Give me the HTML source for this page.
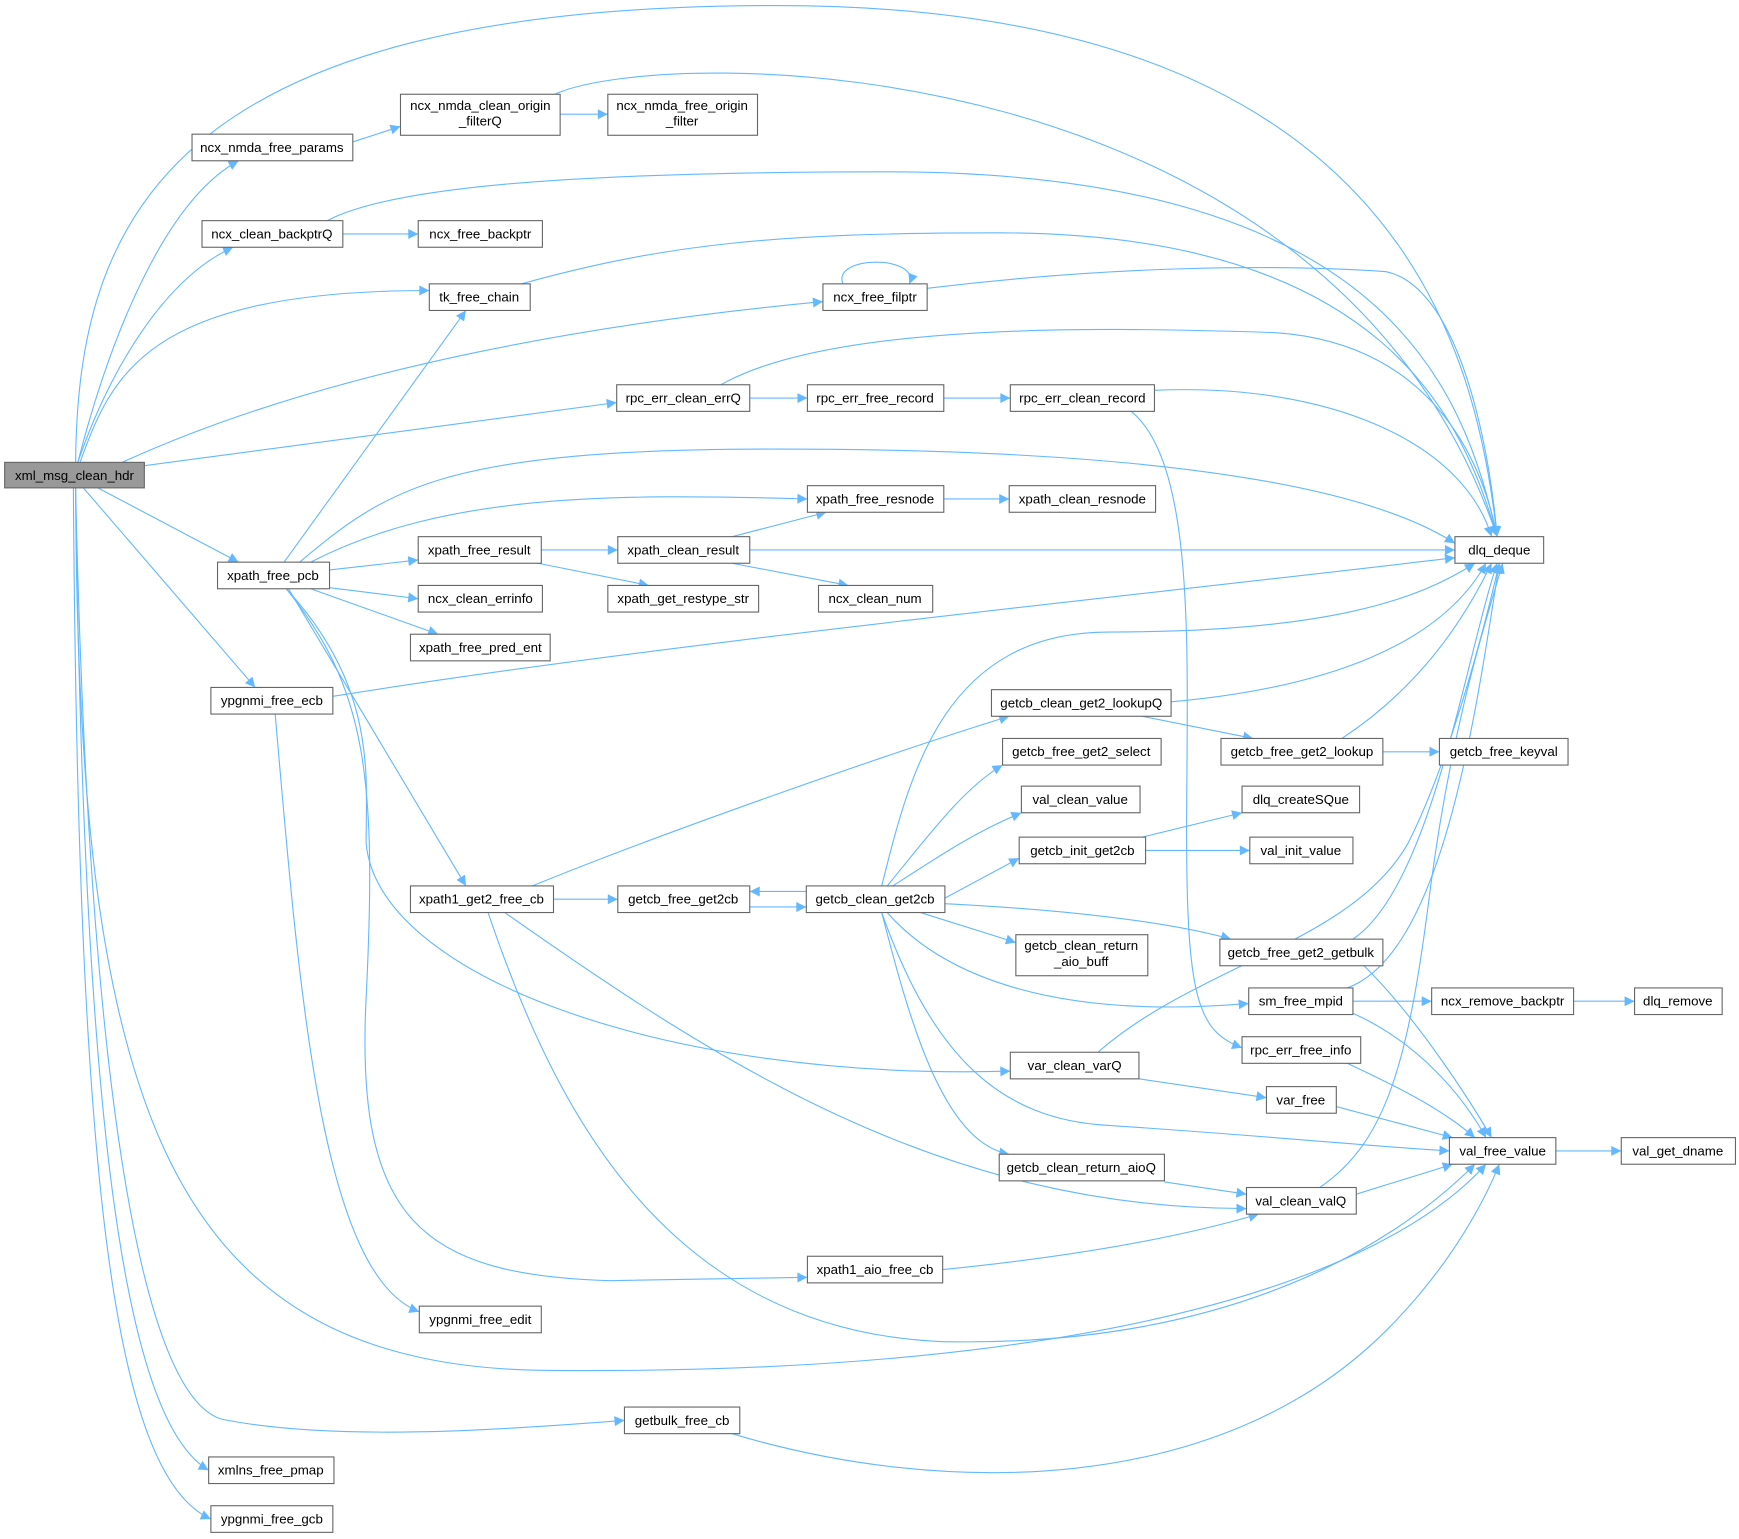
<!DOCTYPE html>
<html><head><meta charset="utf-8"><style>
html,body{margin:0;padding:0;background:#fff;}
svg{display:block;}
text{font-family:"Liberation Sans",Arial,sans-serif;font-size:12px;fill:#000;text-anchor:middle;}
.n{fill:#fff;stroke:#666;stroke-width:1;}
.e{fill:none;stroke:#63b8ff;stroke-width:1;}
</style></head><body>
<svg width="1739" height="1539" viewBox="0 0 1568 1388" xmlns="http://www.w3.org/2000/svg">
<defs><marker id="a" viewBox="0 0 10 10" refX="10" refY="5" markerWidth="12" markerHeight="9" markerUnits="userSpaceOnUse" orient="auto"><path d="M0,0 L10,5 L0,10 z" fill="#63b8ff"/></marker></defs>
<g class="e" marker-end="url(#a)">
<path d="M68,417 C70,200 150,5 700,5 C1250,5 1330,300 1350,484"/>
<path d="M70,417 C100,300 150,180 215,145"/>
<path d="M70,417 C100,330 150,250 210,223"/>
<path d="M72,417 C100,340 130,262 387,262"/>
<path d="M110,417 C300,330 550,290 742,272"/>
<path d="M130,420 L556,363"/>
<path d="M88,440 L215,507"/>
<path d="M75,440 L230,620"/>
<path d="M68,440 C70,1000 150,1236 500,1236 C1000,1240 1250,1150 1340,1050"/>
<path d="M248,644 C270,900 290,1150 378,1183"/>
<path d="M68,440 C80,1000 130,1260 200,1280 C300,1300 450,1290 563,1281"/>
<path d="M68,440 C75,1000 110,1280 188,1326"/>
<path d="M66,440 C70,1050 100,1330 190,1370"/>
<path d="M318,128 L361,114"/>
<path d="M505,103 L548,103"/>
<path d="M500,85 C600,40 1200,40 1350,484"/>
<path d="M309,211 L377,211"/>
<path d="M295,199 C350,170 500,155 800,155 C1250,155 1320,350 1350,484"/>
<path d="M470,256 C600,220 700,210 900,210 C1250,210 1320,380 1350,484"/>
<path d="M760,256 C750,230 830,230 820,256"/>
<path d="M836,260 C1000,240 1150,238 1250,245 C1320,260 1345,420 1350,484"/>
<path d="M676,359 L728,359"/>
<path d="M851,359 L911,359"/>
<path d="M650,347 C750,290 1000,295 1150,300 C1300,310 1340,430 1350,484"/>
<path d="M1041,352 C1200,345 1320,400 1345,484"/>
<path d="M1020,371 C1080,420 1070,600 1070,750 C1070,900 1080,930 1120,945"/>
<path d="M256,507 L420,280"/>
<path d="M270,507 C350,440 400,405 700,405 C1100,405 1250,450 1312,490"/>
<path d="M280,507 C400,445 550,445 728,450"/>
<path d="M297,514 L377,505"/>
<path d="M297,530 L377,540"/>
<path d="M280,531 L395,572"/>
<path d="M260,531 L420,799"/>
<path d="M258,531 C340,620 330,700 330,760 C340,880 600,975 911,966"/>
<path d="M258,531 C330,620 340,700 330,900 C320,1100 380,1150 550,1155 L728,1152"/>
<path d="M850,1145 C950,1135 1050,1120 1135,1095"/>
<path d="M480,799 C600,750 800,680 910,646"/>
<path d="M499,811 L557,811"/>
<path d="M455,823 C650,960 850,1090 1124,1090"/>
<path d="M440,823 C500,1000 600,1200 850,1210 C1100,1215 1250,1130 1330,1050"/>
<path d="M676,818 L727,818"/>
<path d="M727,804 L676,804"/>
<path d="M795,799 C820,700 850,570 1000,570 C1200,570 1280,540 1330,508"/>
<path d="M800,799 C840,750 870,710 904,690"/>
<path d="M805,799 C850,770 880,750 921,733"/>
<path d="M852,810 L919,774"/>
<path d="M830,823 L916,850"/>
<path d="M852,815 C950,820 1050,830 1110,847"/>
<path d="M800,823 C850,880 950,920 1126,905"/>
<path d="M795,823 C820,920 850,1030 910,1041"/>
<path d="M795,823 C840,950 900,1010 1000,1015 C1150,1025 1250,1035 1307,1038"/>
<path d="M1056,633 C1200,620 1300,580 1340,508"/>
<path d="M1030,646 L1130,666"/>
<path d="M1210,666 C1280,620 1320,560 1345,508"/>
<path d="M1247,678 L1298,678"/>
<path d="M1030,755 L1120,733"/>
<path d="M1033,767 L1127,767"/>
<path d="M1220,847 C1290,800 1320,600 1350,508"/>
<path d="M1230,871 C1280,920 1330,1000 1345,1026"/>
<path d="M1215,891 C1300,860 1330,650 1352,508"/>
<path d="M1220,903 L1291,903"/>
<path d="M1218,913 C1280,940 1320,990 1340,1026"/>
<path d="M1419,903 L1474,903"/>
<path d="M1215,959 C1260,980 1300,1000 1330,1026"/>
<path d="M990,949 C1080,870 1220,850 1270,760 C1310,680 1340,560 1352,508"/>
<path d="M1027,973 L1142,990"/>
<path d="M1205,998 L1310,1026"/>
<path d="M1050,1066 L1124,1077"/>
<path d="M1190,1071 C1250,1030 1270,960 1290,800 C1310,650 1340,560 1355,508"/>
<path d="M1223,1077 L1310,1050"/>
<path d="M1403,1038 L1462,1038"/>
<path d="M660,1293 C850,1350 1100,1350 1250,1200 C1310,1140 1340,1080 1352,1050"/>
<path d="M300,628 C600,580 1000,540 1312,503"/>
<path d="M488,496 L557,496"/>
<path d="M485,508 L585,528"/>
<path d="M660,484 L745,462"/>
<path d="M676,496 L1312,496"/>
<path d="M660,508 L765,528"/>
<path d="M851,450 L910,450"/>
</g>
<rect x="4" y="417" width="126" height="23" fill="#999" stroke="#666"/><text x="67" y="433">xml_msg_clean_hdr</text>
<g>
<rect class="n" x="173" y="121" width="145" height="24"/><text x="245" y="137">ncx_nmda_free_params</text>
<rect class="n" x="361" y="85" width="144" height="37"/><text x="433" y="99">ncx_nmda_clean_origin</text><text x="433" y="113">_filterQ</text>
<rect class="n" x="548" y="85" width="135" height="37"/><text x="615" y="99">ncx_nmda_free_origin</text><text x="615" y="113">_filter</text>
<rect class="n" x="182" y="199" width="127" height="24"/><text x="245" y="215">ncx_clean_backptrQ</text>
<rect class="n" x="377" y="199" width="112" height="24"/><text x="433" y="215">ncx_free_backptr</text>
<rect class="n" x="387" y="256" width="91" height="24"/><text x="432" y="272">tk_free_chain</text>
<rect class="n" x="742" y="256" width="94" height="24"/><text x="789" y="272">ncx_free_filptr</text>
<rect class="n" x="556" y="347" width="120" height="24"/><text x="616" y="363">rpc_err_clean_errQ</text>
<rect class="n" x="728" y="347" width="123" height="24"/><text x="789" y="363">rpc_err_free_record</text>
<rect class="n" x="911" y="347" width="130" height="24"/><text x="976" y="363">rpc_err_clean_record</text>
<rect class="n" x="728" y="438" width="123" height="24"/><text x="789" y="454">xpath_free_resnode</text>
<rect class="n" x="910" y="438" width="132" height="24"/><text x="976" y="454">xpath_clean_resnode</text>
<rect class="n" x="1312" y="484" width="80" height="24"/><text x="1352" y="500">dlq_deque</text>
<rect class="n" x="196" y="507" width="101" height="24"/><text x="246" y="523">xpath_free_pcb</text>
<rect class="n" x="377" y="484" width="111" height="24"/><text x="432" y="500">xpath_free_result</text>
<rect class="n" x="557" y="484" width="119" height="24"/><text x="616" y="500">xpath_clean_result</text>
<rect class="n" x="377" y="528" width="112" height="24"/><text x="433" y="544">ncx_clean_errinfo</text>
<rect class="n" x="548" y="528" width="136" height="24"/><text x="616" y="544">xpath_get_restype_str</text>
<rect class="n" x="738" y="528" width="103" height="24"/><text x="789" y="544">ncx_clean_num</text>
<rect class="n" x="370" y="572" width="126" height="24"/><text x="433" y="588">xpath_free_pred_ent</text>
<rect class="n" x="190" y="620" width="110" height="24"/><text x="245" y="636">ypgnmi_free_ecb</text>
<rect class="n" x="894" y="622" width="162" height="24"/><text x="975" y="638">getcb_clean_get2_lookupQ</text>
<rect class="n" x="904" y="666" width="143" height="24"/><text x="975" y="682">getcb_free_get2_select</text>
<rect class="n" x="1101" y="666" width="146" height="24"/><text x="1174" y="682">getcb_free_get2_lookup</text>
<rect class="n" x="1298" y="666" width="116" height="24"/><text x="1356" y="682">getcb_free_keyval</text>
<rect class="n" x="921" y="709" width="107" height="24"/><text x="974" y="725">val_clean_value</text>
<rect class="n" x="1120" y="709" width="106" height="24"/><text x="1173" y="725">dlq_createSQue</text>
<rect class="n" x="919" y="755" width="114" height="24"/><text x="976" y="771">getcb_init_get2cb</text>
<rect class="n" x="1127" y="755" width="93" height="24"/><text x="1173" y="771">val_init_value</text>
<rect class="n" x="370" y="799" width="129" height="24"/><text x="434" y="815">xpath1_get2_free_cb</text>
<rect class="n" x="557" y="799" width="119" height="24"/><text x="616" y="815">getcb_free_get2cb</text>
<rect class="n" x="727" y="799" width="125" height="24"/><text x="789" y="815">getcb_clean_get2cb</text>
<rect class="n" x="916" y="843" width="119" height="37"/><text x="975" y="857">getcb_clean_return</text><text x="975" y="871">_aio_buff</text>
<rect class="n" x="1100" y="847" width="147" height="24"/><text x="1173" y="863">getcb_free_get2_getbulk</text>
<rect class="n" x="1126" y="891" width="94" height="24"/><text x="1173" y="907">sm_free_mpid</text>
<rect class="n" x="1291" y="891" width="128" height="24"/><text x="1355" y="907">ncx_remove_backptr</text>
<rect class="n" x="1474" y="891" width="79" height="24"/><text x="1513" y="907">dlq_remove</text>
<rect class="n" x="1120" y="935" width="107" height="24"/><text x="1173" y="951">rpc_err_free_info</text>
<rect class="n" x="911" y="949" width="116" height="24"/><text x="969" y="965">var_clean_varQ</text>
<rect class="n" x="1142" y="980" width="63" height="24"/><text x="1173" y="996">var_free</text>
<rect class="n" x="1307" y="1026" width="96" height="24"/><text x="1355" y="1042">val_free_value</text>
<rect class="n" x="1462" y="1026" width="103" height="24"/><text x="1513" y="1042">val_get_dname</text>
<rect class="n" x="901" y="1041" width="149" height="24"/><text x="975" y="1057">getcb_clean_return_aioQ</text>
<rect class="n" x="1124" y="1071" width="99" height="24"/><text x="1173" y="1087">val_clean_valQ</text>
<rect class="n" x="728" y="1133" width="122" height="24"/><text x="789" y="1149">xpath1_aio_free_cb</text>
<rect class="n" x="378" y="1178" width="110" height="24"/><text x="433" y="1194">ypgnmi_free_edit</text>
<rect class="n" x="563" y="1269" width="104" height="24"/><text x="615" y="1285">getbulk_free_cb</text>
<rect class="n" x="188" y="1314" width="113" height="24"/><text x="244" y="1330">xmlns_free_pmap</text>
<rect class="n" x="190" y="1358" width="110" height="24"/><text x="245" y="1374">ypgnmi_free_gcb</text>
</g>
</svg>
</body></html>
